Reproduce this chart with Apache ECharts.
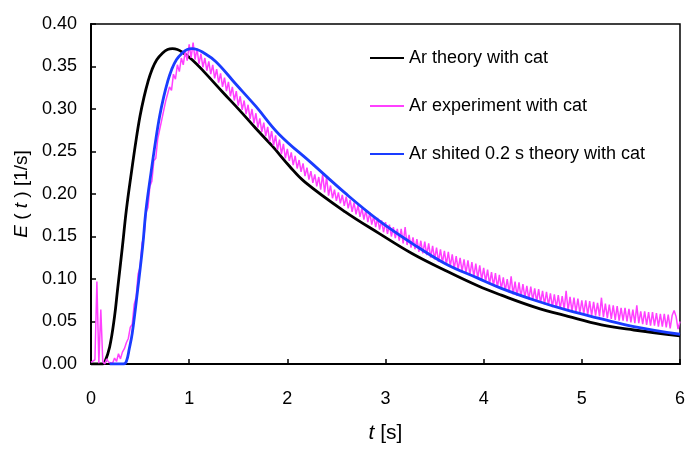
<!DOCTYPE html>
<html>
<head>
<meta charset="utf-8">
<script src="https://cdn.jsdelivr.net/npm/echarts@6/dist/echarts.min.js"></script>
<style>
  html, body { margin: 0; padding: 0; background: #fff; }
  #chart { width: 688px; height: 450px; }
</style>
</head>
<body>
<div id="chart"></div>
<script>
// theory curve (black)
const theoryT = [0, 0.12, 0.14, 0.19, 0.24, 0.27, 0.32, 0.36, 0.41, 0.46, 0.50, 0.54, 0.58, 0.62, 0.67, 0.73, 0.78, 0.83, 0.88, 0.93, 1.03, 1.15, 1.34, 1.51, 1.68, 1.85, 2.02, 2.18, 2.59, 2.93, 3.27, 3.61, 3.94, 4.18, 4.52, 4.86, 5.2, 5.53, 6.0]
const theoryE = [0, 0, 0.002, 0.020, 0.056, 0.087, 0.138, 0.181, 0.224, 0.264, 0.292, 0.314, 0.332, 0.346, 0.358, 0.366, 0.370, 0.371, 0.370, 0.367, 0.358, 0.344, 0.320, 0.299, 0.277, 0.256, 0.233, 0.214, 0.179, 0.154, 0.130, 0.110, 0.092, 0.081, 0.067, 0.056, 0.046, 0.040, 0.033]

// shifted theory curve (blue)
const shiftT = [0.19, 0.33, 0.36, 0.39, 0.42, 0.475, 0.526, 0.56, 0.61, 0.66, 0.70, 0.74, 0.78, 0.82, 0.87, 0.93, 0.98, 1.03, 1.08, 1.135, 1.27, 1.47, 1.68, 1.91, 2.25, 2.59, 2.93, 3.27, 3.61, 3.94, 4.18, 4.52, 4.86, 5.2, 5.53, 6.0]
const shiftE = [0, 0, 0.003, 0.018, 0.036, 0.087, 0.138, 0.181, 0.224, 0.264, 0.292, 0.314, 0.332, 0.346, 0.358, 0.366, 0.370, 0.371, 0.370, 0.367, 0.356, 0.330, 0.303, 0.271, 0.236, 0.201, 0.169, 0.142, 0.118, 0.101, 0.089, 0.075, 0.063, 0.053, 0.044, 0.035]

// experiment (magenta), sampled every expStep seconds from t = 0
const expStep = 0.02
const expE = [
  0.002, 0.000, 0.005, 0.097, 0.001, 0.064, 0.003, 0.000, 0.006, 0.002,
  0.004, 0.001, 0.007, 0.003, 0.012, 0.006, 0.014, 0.018, 0.025, 0.030,
  0.043, 0.047, 0.070, 0.079, 0.106, 0.114, 0.142, 0.150, 0.178, 0.184,
  0.209, 0.215, 0.239, 0.242, 0.265, 0.266, 0.287, 0.288, 0.309, 0.308,
  0.326, 0.322, 0.341, 0.335, 0.352, 0.344, 0.360, 0.352, 0.368, 0.357,
  0.376, 0.360, 0.378, 0.358, 0.371, 0.353, 0.365, 0.349, 0.360, 0.345,
  0.356, 0.341, 0.352, 0.336, 0.347, 0.331, 0.342, 0.326, 0.337, 0.321,
  0.332, 0.315, 0.326, 0.310, 0.321, 0.304, 0.315, 0.299, 0.310, 0.294,
  0.305, 0.288, 0.300, 0.283, 0.295, 0.278, 0.289, 0.273, 0.284, 0.268,
  0.279, 0.262, 0.274, 0.257, 0.269, 0.252, 0.264, 0.247, 0.259, 0.242,
  0.253, 0.239, 0.249, 0.234, 0.245, 0.230, 0.240, 0.226, 0.236, 0.221,
  0.231, 0.217, 0.227, 0.213, 0.223, 0.209, 0.220, 0.205, 0.223, 0.202,
  0.220, 0.198, 0.210, 0.195, 0.205, 0.192, 0.202, 0.189, 0.199, 0.186,
  0.197, 0.183, 0.193, 0.179, 0.190, 0.176, 0.187, 0.173, 0.183, 0.170,
  0.181, 0.167, 0.178, 0.164, 0.174, 0.161, 0.172, 0.158, 0.169, 0.155,
  0.167, 0.153, 0.164, 0.150, 0.161, 0.148, 0.159, 0.145, 0.159, 0.142,
  0.161, 0.140, 0.152, 0.137, 0.149, 0.135, 0.147, 0.132, 0.145, 0.130,
  0.144, 0.128, 0.142, 0.125, 0.139, 0.123, 0.137, 0.120, 0.135, 0.119,
  0.133, 0.117, 0.132, 0.115, 0.129, 0.112, 0.127, 0.111, 0.125, 0.109,
  0.123, 0.107, 0.122, 0.105, 0.120, 0.103, 0.118, 0.101, 0.116, 0.099,
  0.113, 0.097, 0.111, 0.094, 0.108, 0.092, 0.107, 0.090, 0.105, 0.088,
  0.102, 0.086, 0.100, 0.084, 0.103, 0.082, 0.097, 0.080, 0.096, 0.079,
  0.094, 0.078, 0.092, 0.076, 0.091, 0.075, 0.089, 0.073, 0.088, 0.072,
  0.086, 0.070, 0.085, 0.069, 0.083, 0.067, 0.082, 0.066, 0.081, 0.065,
  0.080, 0.064, 0.086, 0.063, 0.079, 0.062, 0.078, 0.061, 0.077, 0.060,
  0.075, 0.059, 0.075, 0.058, 0.074, 0.057, 0.073, 0.057, 0.072, 0.056,
  0.078, 0.055, 0.071, 0.054, 0.070, 0.053, 0.069, 0.052, 0.068, 0.051,
  0.066, 0.051, 0.066, 0.050, 0.065, 0.049, 0.064, 0.048, 0.069, 0.048,
  0.062, 0.047, 0.062, 0.046, 0.061, 0.045, 0.061, 0.045, 0.060, 0.044,
  0.059, 0.044, 0.059, 0.043, 0.058, 0.042, 0.057, 0.063, 0.056, 0.041,
  0.050
]

const seriesNames = ['Ar theory with cat', 'Ar experiment with cat', 'Ar shited 0.2 s theory with cat']

const font = '"Liberation Sans", Arial, sans-serif'
const pairs = (xs, ys) => xs.map((x, i) => [x, ys[i]])
const expData = expE.map((v, i) => [+(i * expStep).toFixed(2), v])

const chart = echarts.init(document.getElementById('chart'), null, { renderer: 'canvas' })

function nameStyle(size) {
  return {
    fontFamily: font, fontSize: size, color: '#000',
    rich: { i: { fontFamily: font, fontSize: size, fontStyle: 'italic', color: '#000' } }
  }
}

chart.setOption({
  animation: false,
  backgroundColor: '#fff',
  grid: {
    left: 91, right: 5, top: 24, bottom: 86,
    show: true, borderColor: '#000', borderWidth: 1.5
  },
  legend: {
    orient: 'vertical',
    left: 369, top: 49, padding: 0,
    itemWidth: 34, itemHeight: 14, itemGap: 30,
    itemStyle: { opacity: 0 },
    textStyle: { fontFamily: font, fontSize: 18, color: '#000' },
    data: seriesNames
  },
  xAxis: {
    type: 'value',
    min: 0, max: 6, interval: 1,
    name: '{i|t} [s]',
    nameLocation: 'middle',
    nameGap: 59,
    nameTextStyle: nameStyle(21),
    axisLine: { lineStyle: { color: '#000', width: 2 } },
    axisTick: { inside: true, length: 5, lineStyle: { color: '#000', width: 1.5 } },
    axisLabel: { margin: 26, fontFamily: font, fontSize: 18, color: '#000' },
    splitLine: { show: false }
  },
  yAxis: {
    type: 'value',
    min: 0, max: 0.4, interval: 0.05,
    name: '{i|E} ( {i|t} ) [1/s]',
    nameLocation: 'middle',
    nameGap: 56,
    nameTextStyle: nameStyle(19),
    axisLine: { lineStyle: { color: '#000', width: 2 } },
    axisTick: { inside: true, length: 5, lineStyle: { color: '#000', width: 1.5 } },
    axisLabel: {
      margin: 14, fontFamily: font, fontSize: 18, color: '#000',
      formatter: v => v.toFixed(2)
    },
    splitLine: { show: false }
  },
  series: [
    {
      name: seriesNames[0], type: 'line', symbol: 'none', smooth: 0.4,
      data: pairs(theoryT, theoryE),
      lineStyle: { color: '#000', width: 2.8 }, itemStyle: { color: '#000' }
    },
    {
      name: seriesNames[1], type: 'line', symbol: 'none',
      data: expData,
      lineStyle: { color: '#ff40ff', width: 1.5 }, itemStyle: { color: '#ff40ff' }
    },
    {
      name: seriesNames[2], type: 'line', symbol: 'none', smooth: 0.4,
      data: pairs(shiftT, shiftE),
      lineStyle: { color: '#1a3cff', width: 2.8 }, itemStyle: { color: '#1a3cff' }
    }
  ]
})
</script>
</body>
</html>
